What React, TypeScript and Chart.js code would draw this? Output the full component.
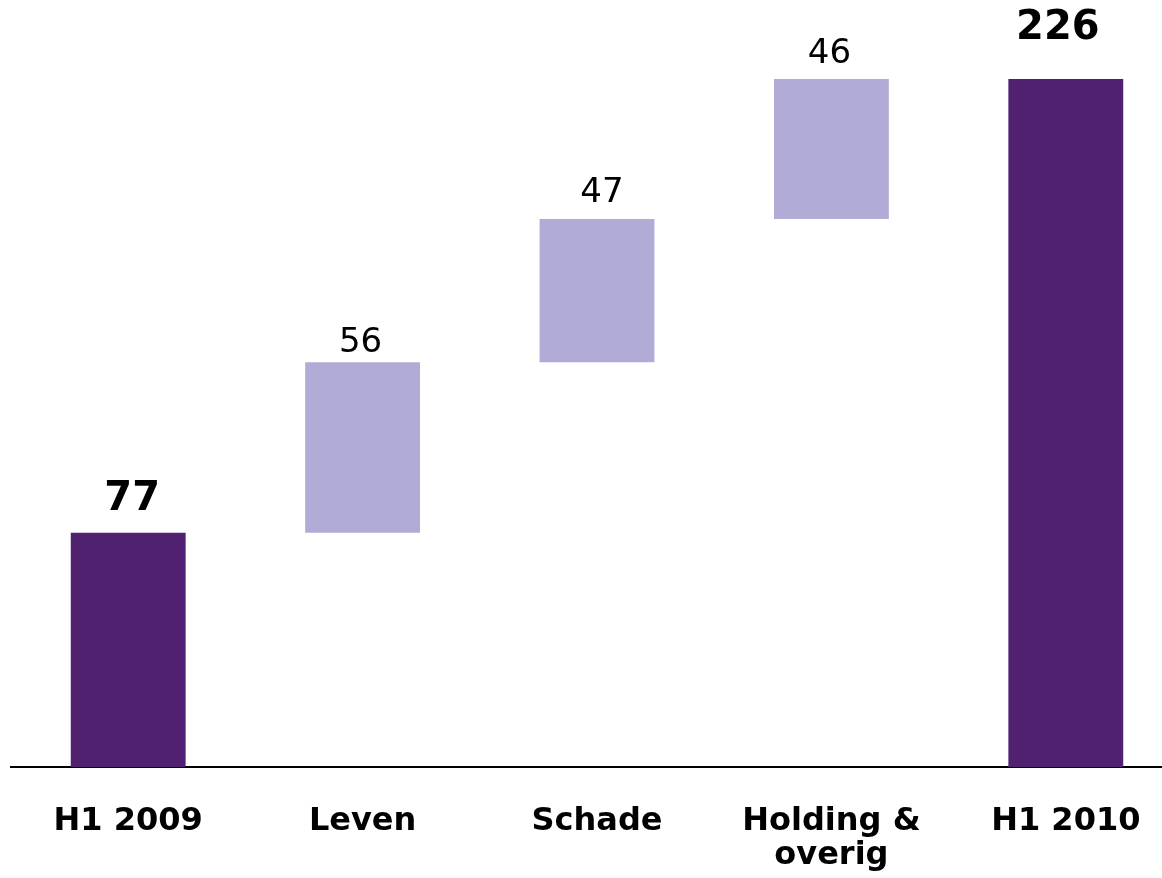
import React, { useEffect, useRef } from 'react';
import { Chart, registerables } from 'chart.js';

Chart.register(...registerables);

const categories: (string | string[])[] = ['H1 2009', 'Leven', 'Schade', ['Holding &', 'overig'], 'H1 2010'];
const changes: number[] = [77, 56, 47, 46, 226];
const isTotal: boolean[] = [true, false, false, false, true];
const valueLabels: string[] = ['77', '56', '47', '46', '226'];

const DARK = '#4F2170';
const LIGHT = '#B0ACD5';
const FONT = "'DejaVu Sans', Verdana, sans-serif";

// label placement tweaks (pixels above bar top, horizontal nudge)
const labelGap = [23, 10, 17, 16, 40];
const labelNudge = [4, -2, 5, -2, -8];

const labelPlugin = {
  id: 'valueLabels',
  afterDatasetsDraw(chart: any) {
    const ctx = chart.ctx;
    const meta = chart.getDatasetMeta(0);
    ctx.save();
    ctx.textAlign = 'center';
    ctx.textBaseline = 'alphabetic';
    ctx.fillStyle = '#000';
    meta.data.forEach((el: any, i: number) => {
      const bold = isTotal[i];
      ctx.font = bold ? `bold 40px ${FONT}` : `34px ${FONT}`;
      const top = Math.min(el.y, el.base);
      ctx.fillText(valueLabels[i], el.x + labelNudge[i], top - labelGap[i]);
    });
    ctx.restore();
  },
};

export default function App() {
  const ref = useRef<HTMLCanvasElement>(null);
  useEffect(() => {
    let run = 0;
    const ranges = changes.map((v, i) => {
      if (isTotal[i]) {
        run = v;
        return [0, v];
      }
      const s = run;
      run += v;
      return [s, run];
    });
    const chart = new Chart(ref.current as HTMLCanvasElement, {
      type: 'bar',
      data: {
        labels: categories,
        datasets: [
          {
            data: ranges as any,
            backgroundColor: isTotal.map((t) => (t ? DARK : LIGHT)),
            borderWidth: 0,
            categoryPercentage: 1,
            barPercentage: 0.49,
          },
        ],
      },
      options: {
        animation: false,
        responsive: true,
        maintainAspectRatio: false,
        layout: { padding: { top: 6, left: 11, right: 7, bottom: 12 } },
        plugins: { legend: { display: false }, tooltip: { enabled: false } },
        scales: {
          x: {
            grid: { display: false },
            border: { display: true, color: '#000', width: 2 },
            ticks: {
              color: '#000',
              font: { family: FONT, size: 32, weight: 'bold', lineHeight: 1.06 },
              padding: 30,
              maxRotation: 0,
              autoSkip: false,
            },
          },
          y: {
            display: false,
            min: 0,
            max: 250,
          },
        },
      },
      plugins: [labelPlugin],
    });
    return () => chart.destroy();
  }, []);
  return (
    <div style={{ position: 'fixed', left: 0, top: 0, width: 1162, height: 878, overflow: 'hidden', background: '#fff' }}>
      <div style={{ position: 'relative', width: 1190, height: 915 }}>
        <canvas ref={ref} />
      </div>
    </div>
  );
}
